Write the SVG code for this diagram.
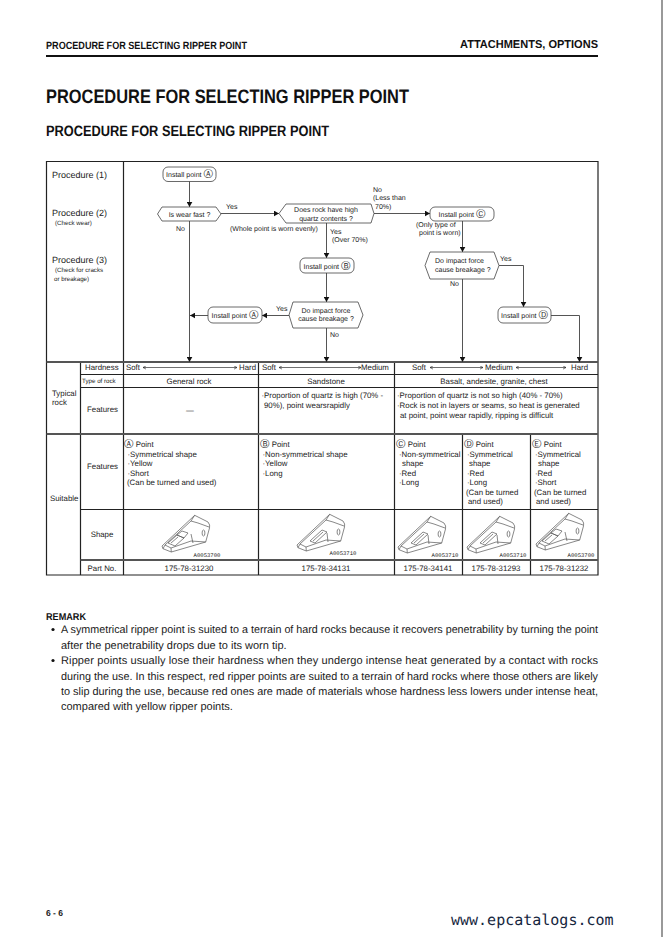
<svg xmlns="http://www.w3.org/2000/svg" xmlns:xlink="http://www.w3.org/1999/xlink" width="663" height="937" viewBox="0 0 663 937">
<style>
text{font-family:"Liberation Sans","DejaVu Sans",sans-serif;fill:#222;text-rendering:geometricPrecision}
.s7{font-size:7px}.s65{font-size:6.2px}.s8{font-size:7.85px}.s9{font-size:9px}
.m{text-anchor:middle}
.b{font-weight:bold;fill:#111}
.c{font-family:"DejaVu Sans",sans-serif;font-size:9.5px}
.r{font-size:11px;fill:#1a1a1a}
.code{font-size:5.6px;font-family:"Liberation Mono",monospace;text-anchor:middle}
.shp{fill:#fff;stroke:#444;stroke-width:.8}
.fl{fill:none;stroke:#555;stroke-width:1}
.ar{marker-end:url(#ah)}
.th{stroke:#222;stroke-width:1.2;fill:none}
.tk{stroke:#555;stroke-width:2;fill:none}
.dbl{fill:none;stroke:#333;stroke-width:.7;marker-start:url(#sm);marker-end:url(#sm)}
.rp{fill:none;stroke:#555;stroke-width:.7;stroke-linejoin:round}
</style>
<defs>
<marker id="ah" markerUnits="userSpaceOnUse" markerWidth="6" markerHeight="6" refX="5" refY="3" orient="auto"><path d="M0,.2L5,3L0,5.8Z" fill="#111"/></marker>
<marker id="sm" markerUnits="userSpaceOnUse" markerWidth="4" markerHeight="4" refX="3" refY="2" orient="auto-start-reverse"><path d="M0,.4L3,2L0,3.6" fill="none" stroke="#222" stroke-width=".6"/></marker>
<g id="rshort" class="rp">
<path d="M0,0L32.7,-30.7L46,-24Q48.5,-21 47.5,-18L43.7,-4L9.3,6L1,2.7Z"/>
<path d="M1,2.7L3,-1L29,-25L32.7,-30.7M9.3,6L9,2L3,-1M9,2L29,-5L43.7,-4M29,-12L31,-3M29,-25L36,-23L47,-19"/>
<path d="M6,-3L15,-11L22,-8L13,0ZM15,-11L20,-15L26,-13L22,-8ZM9,-3L16,-9"/>
<ellipse cx="41.5" cy="-13" rx="1.4" ry="3"/>
</g>
<g id="rlong" class="rp">
<path d="M0,0L32.7,-30.7L46,-24Q48.5,-21 47.5,-18L43.7,-4L9.3,6L1,2.7Z"/>
<path d="M1,2.7L3,-1L29,-25L32.7,-30.7M9.3,6L9,2L3,-1M9,2L29,-5L43.7,-4M30,-12L31,-3M29,-25L36,-23L47,-19"/>
<path d="M13,-4L25,-15L30,-13L18,-2ZM16,-4L26,-13"/>
<ellipse cx="41.5" cy="-13" rx="1.4" ry="3"/>
</g>
</defs>
<rect width="663" height="937" fill="#fff"/>
<rect x="661" y="0" width="2" height="937" fill="#999"/>

<g id="header">
<text x="46" y="49" class="b" font-size="10.500" textLength="201" lengthAdjust="spacingAndGlyphs">PROCEDURE FOR SELECTING RIPPER POINT</text>
<text x="598" y="48" class="b" font-size="11.500" text-anchor="end" textLength="138" lengthAdjust="spacingAndGlyphs">ATTACHMENTS, OPTIONS</text>
<rect x="46" y="55" width="552" height="2" fill="#111"/>
<text x="46" y="103" class="b" font-size="19.500" textLength="363" lengthAdjust="spacingAndGlyphs">PROCEDURE FOR SELECTING RIPPER POINT</text>
<text x="46" y="136" class="b" font-size="15" textLength="283" lengthAdjust="spacingAndGlyphs">PROCEDURE FOR SELECTING RIPPER POINT</text>
</g>

<g id="table">
<path class="th" d="M46.5,161.5H598V575H46.5Z"/>
<path class="th" d="M123.5,161.5V575M80.5,362V575M258.5,362V575M394.5,362V575M462.5,434V575M530.5,434V575"/>
<path class="th" d="M80.5,374.5H598M80.5,387.5H598M80.5,509.5H598"/>
<path class="tk" d="M46.5,362H598M46.5,434H598M80.5,560H598"/>
<g id="table-text">
<text x="52" y="178" class="s9">Procedure (1)</text>
<text x="52" y="216" class="s9">Procedure (2)</text>
<text x="55" y="225" class="s65">(Check wear)</text>
<text x="52" y="263" class="s9">Procedure (3)</text>
<text x="55" y="272" class="s65">(Check for cracks</text>
<text x="54" y="281" class="s65">or breakage)</text>

<text x="85" y="370" class="s8">Hardness</text>
<text x="82" y="383" class="s65">Type of rock</text>
<text x="52" y="396" class="s8">Typical</text>
<text x="52" y="405" class="s8">rock</text>
<text x="87" y="412" class="s8">Features</text>
<text x="50" y="501" class="s8">Suitable</text>
<text x="87" y="469" class="s8">Features</text>
<text x="102" y="537" class="s8 m">Shape</text>
<text x="102" y="571" class="s8 m">Part No.</text>

<text x="126" y="370" class="s8">Soft</text>
<text x="239" y="370" class="s8">Hard</text>
<path class="dbl" d="M143,367.5H237"/>
<text x="262" y="370" class="s8">Soft</text>
<path class="dbl" d="M279,367.5H361"/>
<text x="361" y="370" class="s8">Medium</text>
<text x="412" y="370" class="s8">Soft</text>
<path class="dbl" d="M430,367.5H483"/>
<text x="485" y="370" class="s8">Medium</text>
<path class="dbl" d="M516,367.5H566"/>
<text x="571" y="370" class="s8">Hard</text>

<text x="189" y="383.500" class="s8 m">General rock</text>
<text x="326" y="383.500" class="s8 m">Sandstone</text>
<text x="494" y="383.500" class="s8 m">Basalt, andesite, granite, chest</text>

<text x="190" y="413" class="s8 m">—</text>
<text x="261.500" y="398" class="s8">·Proportion of quartz is high (70% -</text>
<text x="264" y="408" class="s8">90%), point wearsrapidly</text>
<text x="397" y="398" class="s8">·Proportion of quartz is not so high (40% - 70%)</text>
<text x="397" y="408" class="s8">·Rock is not in layers or seams, so heat is generated</text>
<text x="400" y="418" class="s8">at point, point wear rapidly, ripping is difficult</text>

<text x="124" y="447" class="s8"><tspan class="c">Ⓐ</tspan> Point</text>
<text x="127.500" y="456.500" class="s8">·Symmetrical shape</text>
<text x="127.500" y="466" class="s8">·Yellow</text>
<text x="127.500" y="475.500" class="s8">·Short</text>
<text x="127" y="485" class="s8">(Can be turned and used)</text>

<text x="260" y="447" class="s8"><tspan class="c">Ⓑ</tspan> Point</text>
<text x="262.500" y="456.500" class="s8">·Non-symmetrical shape</text>
<text x="262.500" y="466" class="s8">·Yellow</text>
<text x="262.500" y="475.500" class="s8">·Long</text>

<text x="396" y="447" class="s8"><tspan class="c">Ⓒ</tspan> Point</text>
<text x="399" y="456.500" class="s8">·Non-symmetrical</text>
<text x="402" y="466" class="s8">shape</text>
<text x="399" y="475.500" class="s8">·Red</text>
<text x="399" y="485" class="s8">·Long</text>

<text x="464" y="447" class="s8"><tspan class="c">Ⓓ</tspan> Point</text>
<text x="467" y="456.500" class="s8">·Symmetrical</text>
<text x="469" y="466" class="s8">shape</text>
<text x="467" y="475.500" class="s8">·Red</text>
<text x="467" y="485" class="s8">·Long</text>
<text x="466" y="494.500" class="s8">(Can be turned</text>
<text x="468" y="504" class="s8">and used)</text>

<text x="532" y="447" class="s8"><tspan class="c">Ⓔ</tspan> Point</text>
<text x="535" y="456.500" class="s8">·Symmetrical</text>
<text x="538" y="466" class="s8">shape</text>
<text x="535" y="475.500" class="s8">·Red</text>
<text x="535" y="485" class="s8">·Short</text>
<text x="534" y="494.500" class="s8">(Can be turned</text>
<text x="536" y="504" class="s8">and used)</text>

<text x="189" y="571" class="s8 m">175-78-31230</text>
<text x="326" y="571" class="s8 m">175-78-34131</text>
<text x="428" y="571" class="s8 m">175-78-34141</text>
<text x="496" y="571" class="s8 m">175-78-31293</text>
<text x="564" y="571" class="s8 m">175-78-31232</text>

<text x="207" y="557" class="code">A0053700</text>
<text x="343" y="555" class="code">A0053710</text>
<text x="445" y="557" class="code">A0053710</text>
<text x="513" y="557" class="code">A0053710</text>
<text x="581" y="557" class="code">A0053700</text>
</g>
<g id="shapes">
<use xlink:href="#rshort" href="#rshort" x="162" y="546"/>
<use xlink:href="#rlong" href="#rlong" x="297" y="545"/>
<use xlink:href="#rlong" href="#rlong" x="398" y="547"/>
<use xlink:href="#rlong" href="#rlong" x="467" y="547"/>
<use xlink:href="#rshort" href="#rshort" x="536" y="544"/>
</g>
</g>

<g id="connectors">
<path class="fl ar" d="M189.500,181V207"/>
<path class="fl ar" d="M189.500,221V362"/>
<path class="fl ar" d="M221,213.500H279"/>
<path class="fl ar" d="M326.500,223V258"/>
<path class="fl ar" d="M326.500,273V302"/>
<path class="fl ar" d="M326.500,328V362"/>
<path class="fl ar" d="M374,213.500H430"/>
<path class="fl ar" d="M462.500,221V252"/>
<path class="fl ar" d="M462.500,279V362"/>
<path class="fl ar" d="M499,265.500H523.500V307"/>
<path class="fl ar" d="M551,315.500H579.500V362"/>
<path class="fl ar" d="M289,315.500H262"/>
<path class="fl ar" d="M208,315.500H190"/>
</g>
<g id="connector-labels">
<text x="226" y="209" class="s7">Yes</text>
<text x="176" y="231" class="s7">No</text>
<text x="230" y="231" class="s7">(Whole point is worn evenly)</text>
<text x="330" y="234" class="s7">Yes</text>
<text x="332" y="242" class="s7">(Over 70%)</text>
<text x="276" y="311" class="s7">Yes</text>
<text x="330" y="337" class="s7">No</text>
<text x="373" y="192" class="s7">No</text>
<text x="373" y="200" class="s7">(Less than</text>
<text x="375" y="209" class="s7">70%)</text>
<text x="416" y="227" class="s7">(Only type of</text>
<text x="419" y="235" class="s7">point is worn)</text>
<text x="500" y="261" class="s7">Yes</text>
<text x="450" y="286" class="s7">No</text>
</g>

<g id="n-install-a1"><rect class="shp" x="163" y="167" width="53" height="14.500" rx="5"/><text x="189.500" y="177" class="s7 m">Install point <tspan class="c">Ⓐ</tspan></text></g>
<g id="n-wear"><path class="shp" d="M162,207H216L221,214L216,221H162L157.500,214Z"/><text x="189.500" y="216.500" class="s7 m">Is wear fast ?</text></g>
<g id="n-quartz"><path class="shp" d="M286,204H371L374,213.500L371,223H286L279,213.500Z"/><text x="326" y="212" class="s7 m">Does rock have high</text><text x="326" y="220.500" class="s7 m">quartz contents ?</text></g>
<g id="n-install-b"><rect class="shp" x="300" y="258" width="54" height="15" rx="5"/><text x="327" y="268.500" class="s7 m">Install point <tspan class="c">Ⓑ</tspan></text></g>
<g id="n-impact1"><path class="shp" d="M293,302H358L363,315L358,328H293L289,315Z"/><text x="326" y="312.500" class="s7 m">Do impact force</text><text x="326" y="321" class="s7 m">cause breakage ?</text></g>
<g id="n-install-a2"><rect class="shp" x="208" y="307" width="54" height="16" rx="5"/><text x="235" y="318" class="s7 m">Install point <tspan class="c">Ⓐ</tspan></text></g>
<g id="n-install-c"><rect class="shp" x="430" y="207" width="64" height="14" rx="5"/><text x="462" y="217" class="s7 m">Install point <tspan class="c">Ⓒ</tspan></text></g>
<g id="n-impact2"><path class="shp" d="M430,252H494L499,265.500L494,279H430L425,265.500Z"/><text x="435" y="263" class="s7">Do impact force</text><text x="435" y="272" class="s7">cause breakage ?</text></g>
<g id="n-install-d"><rect class="shp" x="498" y="307" width="53" height="16" rx="5"/><text x="524.500" y="318" class="s7 m">Install point <tspan class="c">Ⓓ</tspan></text></g>

<g id="remark">
<text x="46" y="619.500" class="b" font-size="10" textLength="40" lengthAdjust="spacingAndGlyphs">REMARK</text>
<circle cx="53" cy="629.500" r="1.600" fill="#111"/>
<circle cx="53" cy="660.500" r="1.600" fill="#111"/>
<text x="61" y="633" class="r" textLength="537" lengthAdjust="spacingAndGlyphs">A symmetrical ripper point is suited to a terrain of hard rocks because it recovers penetrability by turning the point</text>
<text x="61" y="648.500" class="r">after the penetrability drops due to its worn tip.</text>
<text x="61" y="664" class="r" textLength="537" lengthAdjust="spacing">Ripper points usually lose their hardness when they undergo intense heat generated by a contact with rocks</text>
<text x="61" y="679.500" class="r" textLength="537" lengthAdjust="spacingAndGlyphs">during the use. In this respect, red ripper points are suited to a terrain of hard rocks where those others are likely</text>
<text x="61" y="694.500" class="r" textLength="537" lengthAdjust="spacingAndGlyphs">to slip during the use, because red ones are made of materials whose hardness less lowers under intense heat,</text>
<text x="61" y="710" class="r">compared with yellow ripper points.</text>
</g>
<g id="footer">
<text x="46" y="916" class="b" font-size="8.500">6 - 6</text>
<text x="451" y="925" font-size="15" style="font-family:'DejaVu Sans Mono',monospace;fill:#16263e">www.epcatalogs.com</text>
</g>
</svg>
